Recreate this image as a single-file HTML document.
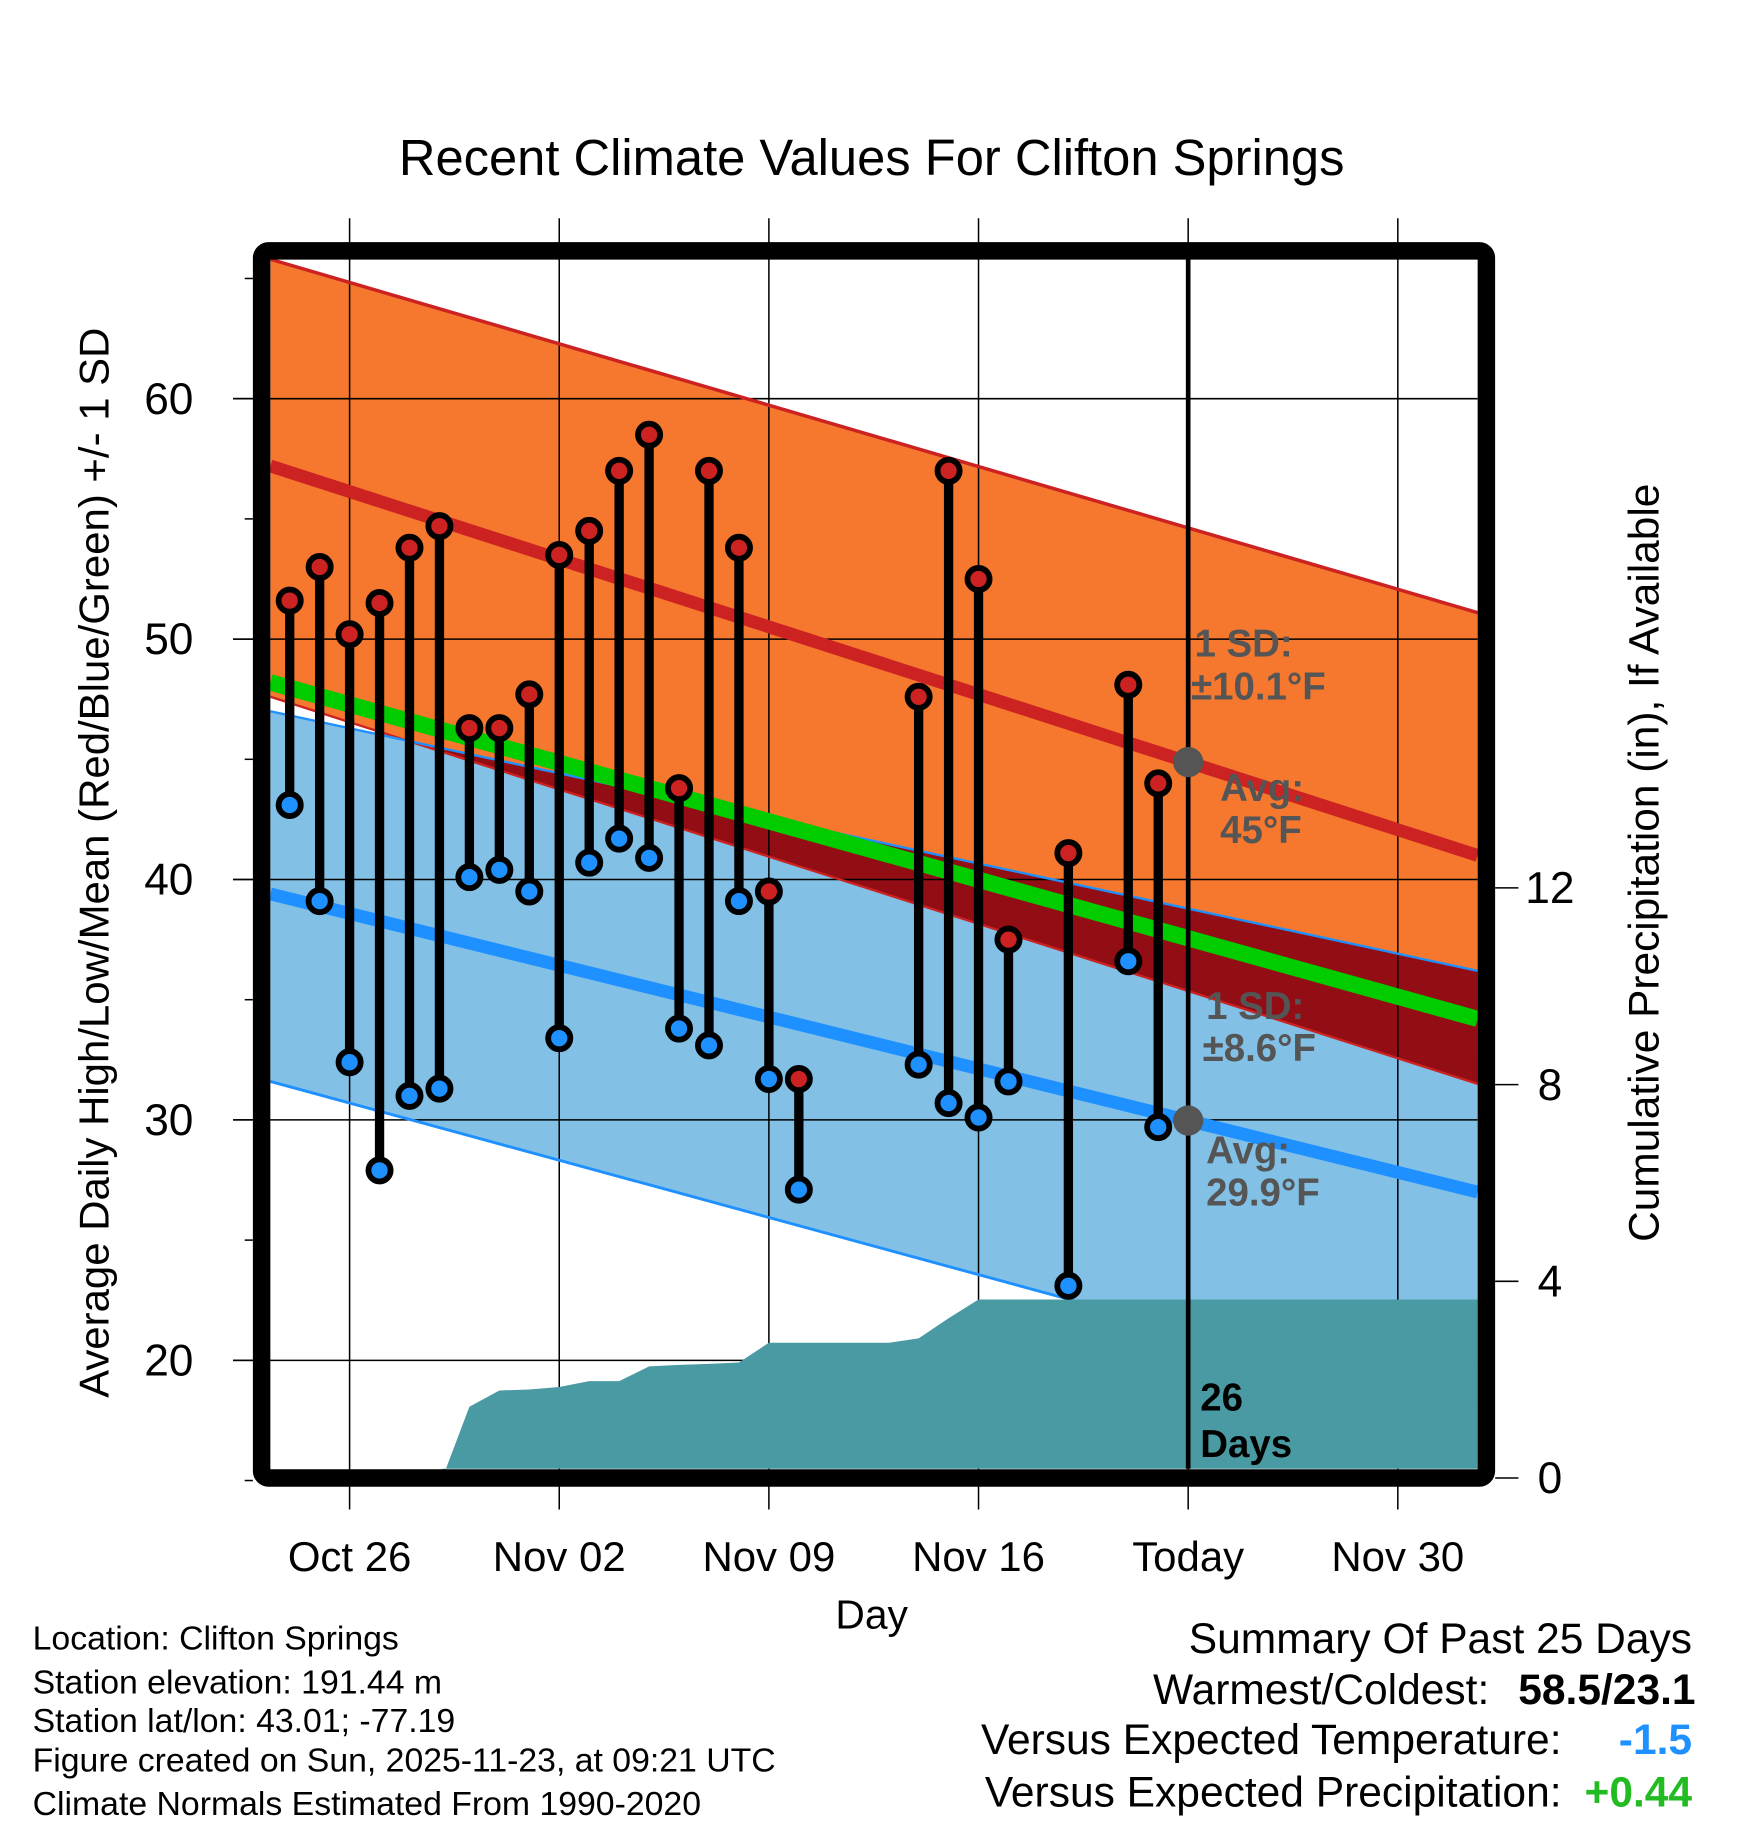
<!DOCTYPE html>
<html><head><meta charset="utf-8">
<style>
html,body{margin:0;padding:0;background:#fff;}
svg{display:block;font-family:"Liberation Sans",Arial,sans-serif;}
</style></head>
<body>
<svg id="chart" width="1748" height="1828" viewBox="0 0 1500 1568" xmlns="http://www.w3.org/2000/svg">
<text x="748" y="150" font-size="43.5" text-anchor="middle">Recent Climate Values For Clifton Springs</text>
<g id="fills"></g>
<g id="grid"></g>
<g id="lines"></g>
<g id="precip"></g>
<g id="today"></g>
<g id="marks"></g>
<g id="annot" font-weight="bold" font-size="33" fill="#555">
<text x="1025" y="563">1 SD:</text>
<text x="1022" y="600">±10.1°F</text>
<text x="1047" y="687">Avg:</text>
<text x="1047" y="723">45°F</text>
<text x="1035" y="874">1 SD:</text>
<text x="1032" y="910">±8.6°F</text>
<text x="1035" y="998">Avg:</text>
<text x="1035" y="1034">29.9°F</text>
<text x="1030" y="1210" fill="#000">26</text>
<text x="1030" y="1250" fill="#000">Days</text>
</g>
<rect x="224.5" y="215" width="1051" height="1053" rx="6" fill="none" stroke="#000" stroke-width="15"/>
<g id="axes"></g>
<text transform="translate(93,740) rotate(-90)" font-size="36" text-anchor="middle">Average Daily High/Low/Mean (Red/Blue/Green) +/- 1 SD</text>
<text transform="translate(1423,740) rotate(-90)" font-size="36.4" text-anchor="middle">Cumulative Precipitation (in), If Available</text>
<text x="748" y="1397" font-size="35" text-anchor="middle">Day</text>
<g font-size="29">
<text x="28" y="1415">Location: Clifton Springs</text>
<text x="28" y="1453">Station elevation: 191.44 m</text>
<text x="28" y="1486">Station lat/lon: 43.01; -77.19</text>
<text x="28" y="1520">Figure created on Sun, 2025-11-23, at 09:21 UTC</text>
<text x="28" y="1557">Climate Normals Estimated From 1990-2020</text>
</g>
<g font-size="36.5" text-anchor="end">
<text x="1452" y="1418">Summary Of Past 25 Days</text>
<text x="1278" y="1462">Warmest/Coldest:</text>
<text x="1455" y="1462" font-weight="bold">58.5/23.1</text>
<text x="1340" y="1505">Versus Expected Temperature:</text>
<text x="1452" y="1505" font-weight="bold" fill="#1e90ff">-1.5</text>
<text x="1340" y="1550">Versus Expected Precipitation:</text>
<text x="1452" y="1550" font-weight="bold" fill="#22bb22">+0.44</text>
</g>
</svg>
<script>
const days  = [-2,-1,0,1,2,3,4,5,6,7,8,9,10,11,12,13,14,15,19,20,21,22,24,26,27];
const highs = [51.6,53.0,50.2,51.5,53.8,54.7,46.3,46.3,47.7,53.5,54.5,57.0,58.5,43.8,57.0,53.8,39.5,31.7,47.6,57.0,52.5,37.5,41.1,48.1,44.0];
const lows  = [43.1,39.1,32.4,27.9,31.0,31.3,40.1,40.4,39.5,33.4,40.7,41.7,40.9,33.8,33.1,39.1,31.7,27.1,32.3,30.7,30.1,31.6,23.1,36.6,29.7];
const precipDays = [3.1,4,5,6,7,8,9,10,11,12,13,14,15,18,19,20,21,27,37.7];
const precipVals = [0,1.45,1.78,1.8,1.85,1.97,1.97,2.27,2.3,2.32,2.35,2.75,2.75,2.75,2.84,3.25,3.63,3.63,3.63];
// normals at left edge / right edge of plot
const highUpper = [65.8,51.1];
const highMean  = [57.2,41.0];
const highLower = [47.6,31.5];
const lowUpper  = [47.0,36.2];
const lowMean   = [39.4,27.0];
const lowLower  = [31.6,17.9];
const meanMean  = [48.2,34.2];
const yTicks = [20,30,40,50,60];
const y2Ticks = [0,4,8,12];
const xTickDays = [0,7,14,21,28,35];
const xTickLabels = ["Oct 26","Nov 02","Nov 09","Nov 16","Today","Nov 30"];
const todayDay = 28;

const NS="http://www.w3.org/2000/svg";
const L=232,R=1268,T=222,B=1260;
const X=d=>300+d*25.7;
const Y=t=>1167-(t-20)*20.63;
const Y2=p=>1268-p*42.2;
function mk(tag,attrs,parent){const e=document.createElementNS(NS,tag);for(const k in attrs)e.setAttribute(k,attrs[k]);parent.appendChild(e);return e;}
const G=id=>document.getElementById(id);
const lin=(a,x)=>a[0]+(a[1]-a[0])*(x-L)/(R-L);
function pts(a,b){return [[L,Y(a[0])],[R,Y(a[1])]].concat([[R,Y(b[1])],[L,Y(b[0])]]);}
const ps=p=>p.map(q=>q.join(',')).join(' ');

let e=mk('polygon',{points:ps(pts(highUpper,highLower)),fill:'#f5782e'},G('fills'));


e=mk('polygon',{points:ps(pts(lowUpper,lowLower)),fill:'#82c0e6'},G('fills'));


(function(){
  const f=x=>Y(lin(highLower,x))-Y(lin(lowUpper,x));
  let xc=L; if(f(L)<0){const a=f(L),b=f(R); xc=L+(R-L)*(-a)/(b-a);}
  const p=[[xc,Y(lin(lowUpper,xc))],[R,Y(lowUpper[1])],[R,Y(highLower[1])],[xc,Y(lin(highLower,xc))]];
  e=mk('polygon',{points:ps(p),fill:'#930d14'},G('fills'));
  
  
})();
(function(){
  const p=[[X(precipDays[0]),B]];
  precipDays.forEach((d,i)=>p.push([Math.min(X(d),R),Y2(precipVals[i])]));
  p.push([R,B]);
  e=mk('polygon',{points:ps(p),fill:'#4a9aa3'},G('precip'));
  
  
})();
yTicks.forEach(t=>{
  e=mk('line',{x1:200,x2:R,y1:Y(t),y2:Y(t),stroke:'#000','stroke-width':1.3},G('grid'));
  
  
});
xTickDays.forEach(d=>{
  e=mk('line',{x1:X(d),x2:X(d),y1:187,y2:1295,stroke:'#000','stroke-width':1.3},G('grid'));
  
  
});
function ln(a,col,w,name){e=mk('line',{x1:L,y1:Y(a[0]),x2:R,y2:Y(a[1]),stroke:col,'stroke-width':w},G('lines'));
  
  }
ln(highUpper,'#cc2222',3,'high-upper-line');
ln(highLower,'#cc2222',2,'high-lower-line');
ln(lowUpper,'#1e90ff',2,'low-upper-line');
ln(lowLower,'#1e90ff',2.5,'low-lower-line');
ln(meanMean,'#00cc00',14,'mean-line');
ln(highMean,'#cc2222',11,'high-mean-line');
ln(lowMean,'#1e90ff',11,'low-mean-line');
e=mk('line',{x1:X(todayDay),x2:X(todayDay),y1:T,y2:B,stroke:'#000','stroke-width':4},G('today'));


[lin(highMean,X(todayDay)),lin(lowMean,X(todayDay))].forEach(v=>{
  e=mk('circle',{cx:X(todayDay),cy:Y(v),r:13,fill:'#555'},G('today'));
  
  
});
days.forEach((d,i)=>{
  const x=X(d);
  e=mk('line',{x1:x,x2:x,y1:Y(highs[i]),y2:Y(lows[i]),stroke:'#000','stroke-width':8},G('marks'));
  
  
  e=mk('circle',{cx:x,cy:Y(highs[i]),r:9.5,fill:'#cc2222',stroke:'#000','stroke-width':5},G('marks'));
  
  
  e=mk('circle',{cx:x,cy:Y(lows[i]),r:9.5,fill:'#1e90ff',stroke:'#000','stroke-width':5},G('marks'));
  
  
});
for(let t=15;t<=65;t+=5){
  e=mk('line',{x1:yTicks.includes(t)?200:210,x2:217,y1:Y(t),y2:Y(t),stroke:'#000','stroke-width':1.3},G('axes'));
  
  
}
yTicks.forEach(t=>{
  e=mk('text',{x:166,y:Y(t)+13,'font-size':38,'text-anchor':'end'},G('axes'));e.textContent=t;
  
  
});
y2Ticks.forEach(p=>{
  e=mk('line',{x1:1283,x2:1303,y1:Y2(p),y2:Y2(p),stroke:'#000','stroke-width':1.3},G('axes'));
  
  
  e=mk('text',{x:1330,y:Y2(p)+13,'font-size':38,'text-anchor':'middle'},G('axes'));e.textContent=p;
  
  
});
xTickDays.forEach((d,i)=>{
  e=mk('text',{x:X(d),y:1348,'font-size':36,'text-anchor':'middle'},G('axes'));e.textContent=xTickLabels[i];
  
  
});
</script>
</body></html>
